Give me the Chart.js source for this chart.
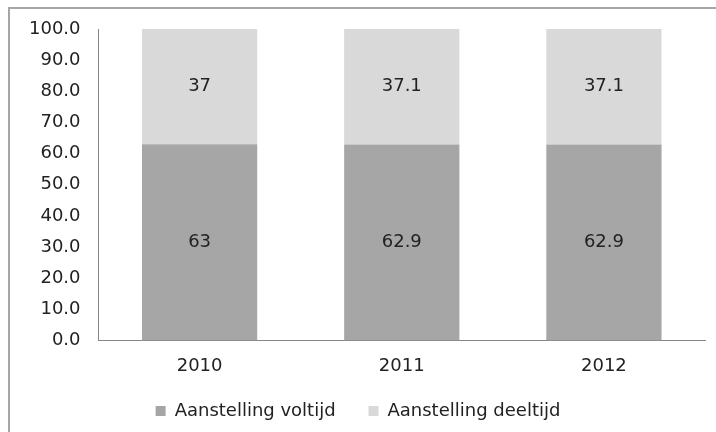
<!DOCTYPE html>
<html>
<head>
<meta charset="utf-8">
<script src="https://cdn.jsdelivr.net/npm/chart.js@4.4.0/dist/chart.umd.min.js"></script>
<style>
    html, body { margin: 0; padding: 0; background: #fff; overflow: hidden; }
</style>
</head>
<body>
<canvas id="chart" width="716" height="432"></canvas>
<script>
const years = ['2010', '2011', '2012'];
const voltijd = [63, 62.9, 62.9];
const deeltijd = [37, 37.1, 37.1];
const seriesNames = ['Aanstelling voltijd', 'Aanstelling deeltijd'];

const FONT = "'DejaVu Sans', Verdana, sans-serif";

// outer frame (only its left and top edge are in view)
const frame = {
    id: 'frame',
    beforeDraw(chart) {
        const ctx = chart.ctx;
        ctx.save();
        ctx.fillStyle = '#fff';
        ctx.fillRect(0, 0, chart.width, chart.height);
        ctx.strokeStyle = '#a6a6a6';
        ctx.lineWidth = 2;
        ctx.beginPath();
        ctx.moveTo(9, chart.height + 2);
        ctx.lineTo(9, 8);
        ctx.lineTo(chart.width + 2, 8);
        ctx.stroke();
        ctx.restore();
    }
};

// draw the value in the middle of each bar segment
const barValues = {
    id: 'barValues',
    afterDatasetsDraw(chart) {
        const ctx = chart.ctx;
        ctx.save();
        ctx.font = '18px ' + FONT;
        ctx.fillStyle = '#222';
        ctx.textAlign = 'center';
        ctx.textBaseline = 'middle';
        chart.data.datasets.forEach((ds, i) => {
            const meta = chart.getDatasetMeta(i);
            meta.data.forEach((bar, j) => {
                ctx.fillText(String(ds.data[j]), bar.x, (bar.y + bar.base) / 2);
            });
        });
        ctx.restore();
    }
};

Chart.defaults.font.family = FONT;
Chart.defaults.font.size = 18;
Chart.defaults.color = '#222';

new Chart(document.getElementById('chart').getContext('2d'), {
    type: 'bar',
    data: {
        labels: years,
        datasets: [{
            label: seriesNames[0],
            data: voltijd,
            backgroundColor: '#a6a6a6',
            barPercentage: 0.57,
            categoryPercentage: 1
        }, {
            label: seriesNames[1],
            data: deeltijd,
            backgroundColor: '#d9d9d9',
            barPercentage: 0.57,
            categoryPercentage: 1
        }]
    },
    options: {
        responsive: false,
        animation: false,
        layout: { padding: { left: 11, right: 11, top: 29, bottom: 2 } },
        plugins: {
            tooltip: { enabled: false },
            legend: {
                position: 'bottom',
                labels: {
                    boxWidth: 10,
                    boxHeight: 10,
                    padding: 10,
                    color: '#222',
                    // wider gap between the two legend entries
                    generateLabels(chart) {
                        const items = Chart.defaults.plugins.legend.labels.generateLabels(chart);
                        items.forEach((it, i) => {
                            if (i < items.length - 1) it.text += '\u00a0\u00a0\u00a0\u00a0';
                        });
                        return items;
                    }
                }
            }
        },
        scales: {
            x: {
                stacked: true,
                grid: { display: false, drawTicks: false },
                border: { color: '#868686', width: 1 },
                ticks: { padding: 15 }
            },
            y: {
                stacked: true,
                min: 0,
                max: 100,
                grid: { display: false, drawTicks: false },
                border: { color: '#868686', width: 1 },
                ticks: {
                    stepSize: 10,
                    padding: 18,
                    callback: v => v.toFixed(1)
                }
            }
        }
    },
    plugins: [frame, barValues]
});
</script>
</body>
</html>
